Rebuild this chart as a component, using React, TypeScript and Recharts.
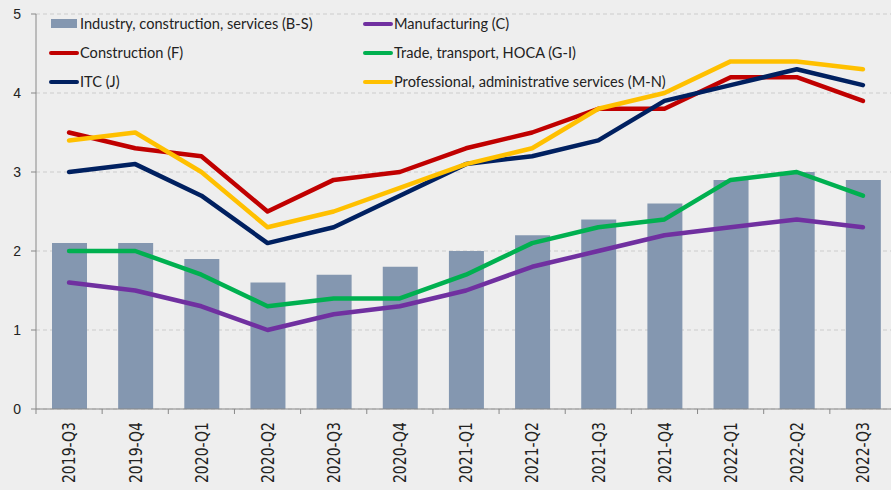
import React from 'react'
import { ComposedChart, Bar, Line, XAxis, YAxis, CartesianGrid } from 'recharts'

const quarters = [
  '2019-Q3', '2019-Q4', '2020-Q1', '2020-Q2', '2020-Q3', '2020-Q4', '2021-Q1',
  '2021-Q2', '2021-Q3', '2021-Q4', '2022-Q1', '2022-Q2', '2022-Q3',
]
const totalBS = [2.1, 2.1, 1.9, 1.6, 1.7, 1.8, 2.0, 2.2, 2.4, 2.6, 2.9, 3.0, 2.9]
const manufacturing = [1.6, 1.5, 1.3, 1.0, 1.2, 1.3, 1.5, 1.8, 2.0, 2.2, 2.3, 2.4, 2.3]
const construction = [3.5, 3.3, 3.2, 2.5, 2.9, 3.0, 3.3, 3.5, 3.8, 3.8, 4.2, 4.2, 3.9]
const trade = [2.0, 2.0, 1.7, 1.3, 1.4, 1.4, 1.7, 2.1, 2.3, 2.4, 2.9, 3.0, 2.7]
const itc = [3.0, 3.1, 2.7, 2.1, 2.3, 2.7, 3.1, 3.2, 3.4, 3.9, 4.1, 4.3, 4.1]
const professional = [3.4, 3.5, 3.0, 2.3, 2.5, 2.8, 3.1, 3.3, 3.8, 4.0, 4.4, 4.4, 4.3]
const yTicks = [0, 1, 2, 3, 4, 5]

const data = quarters.map((q, i) => ({
  q,
  bs: totalBS[i],
  c: manufacturing[i],
  f: construction[i],
  gi: trade[i],
  j: itc[i],
  mn: professional[i],
}))

const lines = [
  { key: 'c', name: 'Manufacturing (C)', color: '#7030a0' },
  { key: 'f', name: 'Construction (F)', color: '#c00000' },
  { key: 'gi', name: 'Trade, transport, HOCA (G-I)', color: '#00b050' },
  { key: 'j', name: 'ITC (J)', color: '#002060' },
  { key: 'mn', name: 'Professional, administrative services (M-N)', color: '#ffc000' },
]

// legend order as in the original (two columns, row by row)
const legendItems = [
  { name: 'Industry, construction, services (B-S)', color: '#8497b0', bar: true },
  lines[0],
  lines[1],
  lines[2],
  lines[3],
  lines[4],
]

const CHART_W = 896
const CHART_H = 490
const Y_W = 36
const BAND = (CHART_W - Y_W) / quarters.length

function QuarterTick(props: any) {
  const { x, y, payload } = props
  return (
    <g transform={`translate(${x},${y})`}>
      <line x1={-BAND / 2} y1={0} x2={-BAND / 2} y2={5} stroke="#888888" />
      <text
        transform="translate(0,13) rotate(-90) scale(1,1.25)"
        textAnchor="end"
        dy="0.36em"
        fontFamily="DejaVu Sans"
        fontSize={14}
        fill="#222222"
      >
        {payload.value}
      </text>
    </g>
  )
}

function LegendBox() {
  return (
    <div
      style={{
        position: 'absolute',
        left: 49,
        top: 9,
        display: 'grid',
        gridTemplateColumns: '314px 320px',
        fontFamily: 'Lato',
        fontSize: 14.6,
        color: '#222222',
      }}
    >
      {legendItems.map((it: any) => (
        <div key={it.name} style={{ display: 'flex', alignItems: 'center', height: 29 }}>
          {it.bar ? (
            <span style={{ width: 26, height: 9, background: it.color, margin: '0 3px 0 2px' }} />
          ) : (
            <span style={{ width: 30, height: 4, borderRadius: 2, background: it.color, marginRight: 1 }} />
          )}
          <span>{it.name}</span>
        </div>
      ))}
    </div>
  )
}

export default function App() {
  return (
    <div
      style={{
        position: 'fixed',
        left: 0,
        top: 0,
        width: 891,
        height: 490,
        overflow: 'hidden',
        background: '#eeeeee',
      }}
    >
      <ComposedChart
        width={CHART_W}
        height={CHART_H}
        data={data}
        margin={{ top: 14, right: 0, bottom: 0, left: 0 }}
      >
        <CartesianGrid vertical={false} stroke="#cccccc" strokeDasharray="4 3" />
        <XAxis
          dataKey="q"
          height={81}
          interval={0}
          tickLine={false}
          tickSize={0}
          tickMargin={0}
          stroke="#888888"
          tick={<QuarterTick />}
        />
        <YAxis
          width={Y_W}
          domain={[0, 5]}
          ticks={yTicks}
          tickSize={5}
          tickMargin={10}
          stroke="#888888"
          tick={{ fill: '#222222', fontSize: 14, fontFamily: 'Liberation Sans' }}
        />
        <Bar dataKey="bs" fill="#8497b0" barSize={35} isAnimationActive={false} />
        {lines.map((l) => (
          <Line
            key={l.key}
            dataKey={l.key}
            stroke={l.color}
            strokeWidth={4.5}
            strokeLinecap="round"
            strokeLinejoin="round"
            dot={false}
            type="linear"
            isAnimationActive={false}
          />
        ))}
      </ComposedChart>
      <LegendBox />
    </div>
  )
}
